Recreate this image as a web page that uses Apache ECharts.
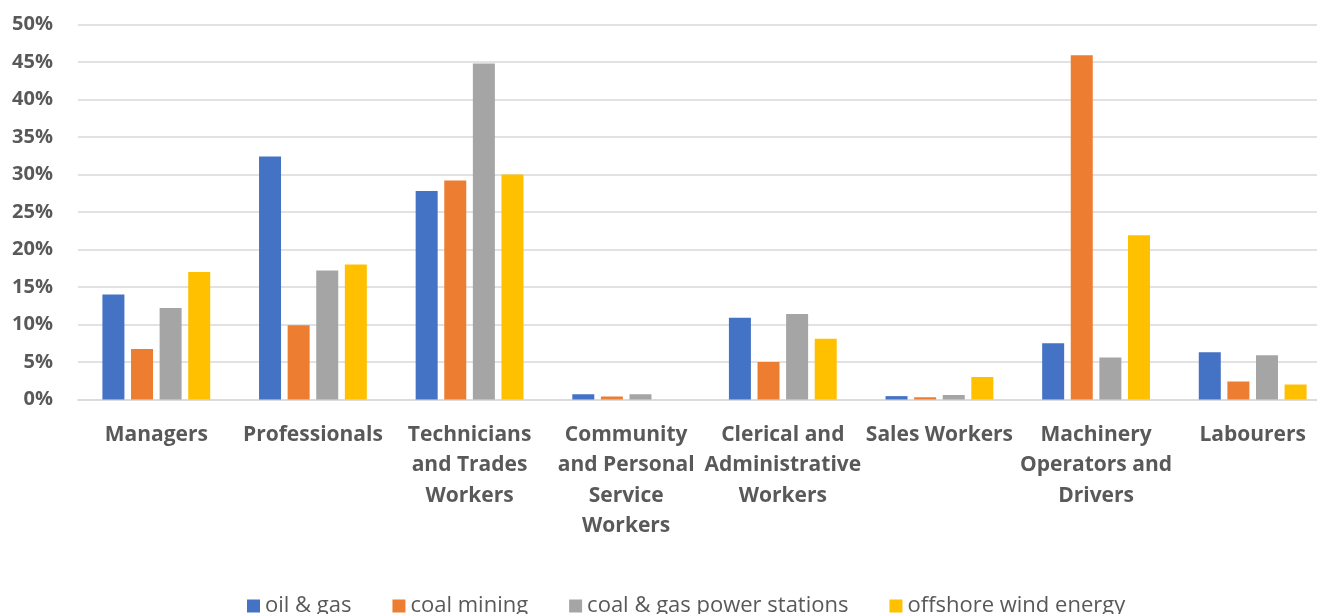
<!DOCTYPE html>
<html>
<head>
<meta charset="utf-8">
<script src="https://cdn.jsdelivr.net/npm/echarts@6/dist/echarts.min.js"></script>
<style>
  html, body { margin: 0; padding: 0; background: #fff; overflow: hidden; width: 1317px; height: 614px; }
  #chart { width: 1331px; height: 614px; }
</style>
</head>
<body>
<div id="chart"></div>
<script>
// Occupation categories (line breaks as shown under the axis)
const categories = [
  'Managers',
  'Professionals',
  'Technicians\nand Trades\nWorkers',
  'Community\nand Personal\nService\nWorkers',
  'Clerical and\nAdministrative\nWorkers',
  'Sales Workers',
  'Machinery\nOperators and\nDrivers',
  'Labourers'
];

// Share of workforce by occupation, in percent
const oilGas          = [14.0, 32.4, 27.8, 0.7, 10.9, 0.45, 7.5, 6.3];
const coalMining      = [6.75, 9.9, 29.2, 0.4, 5.0, 0.3, 45.9, 2.4];
const powerStations   = [12.2, 17.2, 44.8, 0.7, 11.4, 0.6, 5.6, 5.9];
const offshoreWind    = [17.0, 18.0, 30.0, 0.0, 8.1, 3.0, 21.9, 2.0];

const seriesNames = ['oil & gas', 'coal mining', 'coal & gas power stations', 'offshore wind energy'];
const seriesColors = ['#4472C4', '#ED7D31', '#A5A5A5', '#FFC000'];
const seriesData = [oilGas, coalMining, powerStations, offshoreWind];

const textColor = '#595959';
const fontFamily = '"Open Sans", "Noto Sans", sans-serif';

const chart = echarts.init(document.getElementById('chart'), null, { renderer: 'canvas' });

chart.setOption({
  backgroundColor: '#ffffff',
  animation: false,
  grid: {
    left: 78,
    top: 24.5,
    right: 0,
    height: 375,
    containLabel: false
  },
  legend: {
    data: seriesNames,
    left: 247,
    top: 595,
    padding: 0,
    icon: 'rect',
    itemWidth: 13,
    itemHeight: 13,
    itemGap: 41,
    textStyle: {
      color: textColor,
      fontFamily: fontFamily,
      fontSize: 22,
      padding: [0, 0, 0, 0]
    }
  },
  xAxis: {
    type: 'category',
    data: categories,
    axisTick: { show: false },
    axisLine: { lineStyle: { color: '#d9d9d9', width: 1.5 } },
    axisLabel: {
      interval: 0,
      color: textColor,
      fontFamily: fontFamily,
      fontWeight: 'bold',
      fontSize: 21,
      lineHeight: 30.5,
      margin: 20
    }
  },
  yAxis: {
    type: 'value',
    min: 0,
    max: 50,
    interval: 5,
    axisLine: { show: false },
    axisTick: { show: false },
    splitLine: { lineStyle: { color: '#d9d9d9', width: 1.5 } },
    axisLabel: {
      formatter: '{value}%',
      color: textColor,
      fontFamily: fontFamily,
      fontWeight: 'bold',
      fontSize: 20,
      margin: 25
    }
  },
  series: seriesNames.map((name, i) => ({
    name: name,
    type: 'bar',
    data: seriesData[i],
    barWidth: 22,
    barGap: '30%',
    itemStyle: { color: seriesColors[i] }
  }))
});
</script>
</body>
</html>
